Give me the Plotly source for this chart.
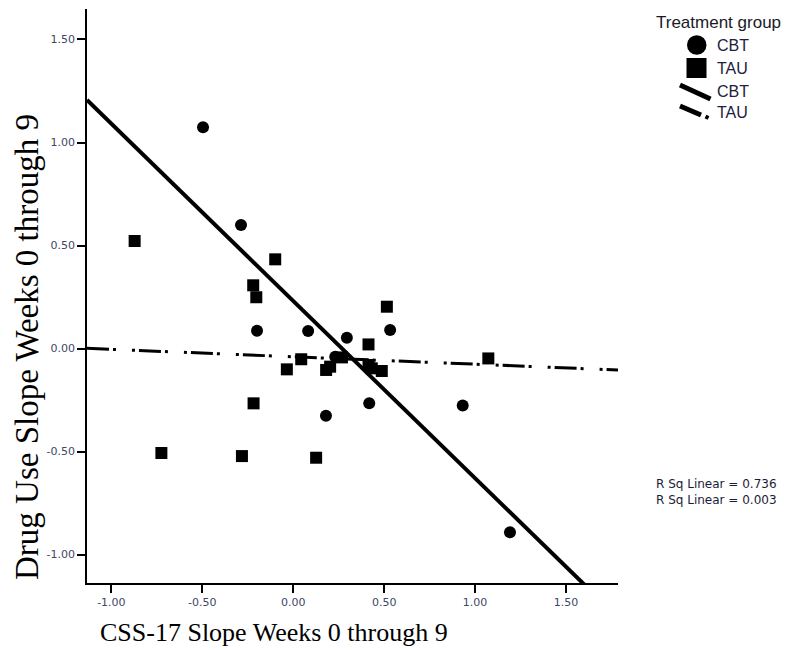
import plotly.graph_objects as go

# ---------------- data ----------------
cbt_x = [-0.496, -0.287, -0.199, 0.082, 0.295, 0.533, 0.231, 0.180, 0.418, 0.932, 1.192]
cbt_y = [1.074, 0.600, 0.086, 0.085, 0.052, 0.090, -0.040, -0.326, -0.266, -0.276, -0.892]

tau_x = [-0.872, -0.725, -0.282, -0.218, -0.220, -0.203, -0.099, -0.035, 0.044, 0.126,
         0.181, 0.203, 0.268, 0.414, 0.414, 0.432, 0.487, 0.515, 1.073]
tau_y = [0.522, -0.507, -0.522, -0.266, 0.307, 0.249, 0.433, -0.101, -0.052, -0.530,
         -0.104, -0.088, -0.043, 0.020, -0.080, -0.096, -0.109, 0.203, -0.048]

# fit lines: intercept, slope
cbt_fit = [0.231, -0.860]
tau_fit = [-0.040, -0.036]
r_sq = ["0.736", "0.003"]

x_range = [-1.134, 1.786]
y_range = [-1.138, 1.648]

x_tick_vals = [-1.0, -0.5, 0.0, 0.5, 1.0, 1.5]
x_tick_text = ["-1.00", "-0.50", "0.00", "0.50", "1.00", "1.50"]
y_tick_vals = [-1.0, -0.5, 0.0, 0.5, 1.0, 1.5]
y_tick_text = ["-1.00", "-0.50", "0.00", "0.50", "1.00", "1.50"]

group_names = ["CBT", "TAU"]
legend_title = "Treatment group"
x_title = "CSS-17 Slope Weeks 0 through 9"
y_title = "Drug Use Slope Weeks 0 through 9"

# ---------------- layout geometry (page pixels) ----------------
PAGE_W, PAGE_H = 792, 650
OFF = 8  # default body margin of the html page
L, R, T, B = 87, 618, 9, 583
PW, PH = R - L, B - T


def px(x):
    return (x - L) / PW


def py(y):
    return (B - y) / PH


TICK_FONT = dict(family="DejaVu Sans", size=11, color="#3e4866")

fig = go.Figure()

fig.add_trace(go.Scatter(x=cbt_x, y=cbt_y, mode="markers", name=group_names[0],
                         marker=dict(symbol="circle", size=12, color="black"),
                         showlegend=False))
fig.add_trace(go.Scatter(x=tau_x, y=tau_y, mode="markers", name=group_names[1],
                         marker=dict(symbol="square", size=12, color="black"),
                         showlegend=False))

line_x = list(x_range)
fig.add_trace(go.Scatter(x=line_x, y=[cbt_fit[0] + cbt_fit[1] * v for v in line_x],
                         mode="lines", name=group_names[0] + " fit",
                         line=dict(color="black", width=4), showlegend=False))
fig.add_trace(go.Scatter(x=line_x, y=[tau_fit[0] + tau_fit[1] * v for v in line_x],
                         mode="lines", name=group_names[1] + " fit",
                         line=dict(color="black", width=3,
                                   dash="22px,4px,3px,16px,3px,4px"),
                         showlegend=False))

fig.update_layout(
    width=PAGE_W - OFF, height=PAGE_H - OFF,
    margin=dict(l=L - OFF, r=PAGE_W - R, t=T - OFF, b=PAGE_H - B, pad=0),
    paper_bgcolor="white", plot_bgcolor="white",
    showlegend=False,
    xaxis=dict(range=x_range, tickvals=x_tick_vals, ticktext=x_tick_text,
               showgrid=False, zeroline=False, showline=True, linecolor="black",
               linewidth=1.5, ticks="outside", ticklen=8, tickwidth=1.5,
               tickcolor="black", tickfont=TICK_FONT),
    yaxis=dict(range=y_range, tickvals=y_tick_vals, ticktext=y_tick_text,
               showgrid=False, zeroline=False, showline=True, linecolor="black",
               linewidth=1.5, ticks="outside", ticklen=8, tickwidth=1.5,
               tickcolor="black", tickfont=TICK_FONT),
)

# axis titles
fig.add_annotation(text=x_title, xref="paper", yref="paper", x=px(98), y=py(649),
                   xanchor="left", yanchor="bottom", showarrow=False,
                   font=dict(family="Liberation Serif", size=26, color="black"))
fig.add_annotation(text=y_title, xref="paper", yref="paper", x=px(27), y=py(347),
                   xanchor="center", yanchor="middle", textangle=-90, showarrow=False,
                   font=dict(family="Liberation Serif", size=33, color="black"))

# custom legend
LEG_FONT = dict(family="Liberation Sans", size=16, color="#20203a")
fig.add_annotation(text=legend_title, xref="paper", yref="paper", x=px(654), y=py(22.5),
                   xanchor="left", yanchor="middle", showarrow=False,
                   font=dict(family="Liberation Sans", size=17, color="#1a1a26"))
for label, yc in zip([group_names[0], group_names[1], group_names[0], group_names[1]],
                     [45, 68, 91, 113]):
    fig.add_annotation(text=label, xref="paper", yref="paper", x=px(715), y=py(yc),
                       xanchor="left", yanchor="middle", showarrow=False, font=LEG_FONT)

fig.add_shape(type="circle", xref="paper", yref="paper",
              x0=px(687), x1=px(706.5), y0=py(54.8), y1=py(35.2),
              fillcolor="black", line=dict(color="black", width=0))
fig.add_shape(type="rect", xref="paper", yref="paper",
              x0=px(686.5), x1=px(706.5), y0=py(78), y1=py(58),
              fillcolor="black", line=dict(color="black", width=0))
fig.add_shape(type="line", xref="paper", yref="paper",
              x0=px(680), x1=px(710.5), y0=py(85), y1=py(99),
              line=dict(color="black", width=5))
fig.add_shape(type="line", xref="paper", yref="paper",
              x0=px(680), x1=px(701), y0=py(106), y1=py(115),
              line=dict(color="black", width=5))
fig.add_shape(type="line", xref="paper", yref="paper",
              x0=px(705.5), x1=px(708.5), y0=py(116.5), y1=py(118),
              line=dict(color="black", width=4))

# R squared labels
fig.add_annotation(text="R Sq Linear = " + r_sq[0] + "<br>R Sq Linear = " + r_sq[1],
                   xref="paper", yref="paper", x=px(654), y=py(492),
                   xanchor="left", yanchor="middle", align="left", showarrow=False,
                   font=dict(family="DejaVu Sans", size=12, color="#1c1c38"))

fig.write_html("out.html")
